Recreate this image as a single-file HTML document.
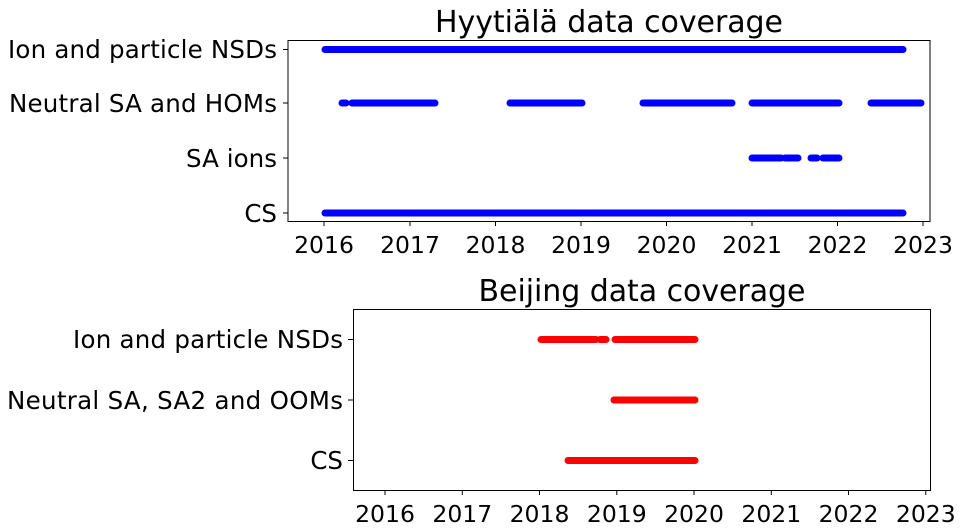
<!DOCTYPE html>
<html><head><meta charset="utf-8"><style>
html,body{margin:0;padding:0;background:#fff;}
svg{display:block;}
text{font-family:"DejaVu Sans","Liberation Sans",sans-serif;fill:#000;}
</style></head><body>
<svg width="963" height="528" viewBox="0 0 963 528" xmlns="http://www.w3.org/2000/svg">
<!-- Top chart -->
<text x="609" y="32" font-size="30" text-anchor="middle" textLength="348">Hyytiälä data coverage</text>
<g stroke="#0000ff" stroke-width="7" stroke-linecap="round" fill="none">
<line x1="325" y1="49.5" x2="903" y2="49.5"/>
<line x1="342" y1="103" x2="346" y2="103"/>
<line x1="352" y1="103" x2="435" y2="103"/>
<line x1="510" y1="103" x2="582" y2="103"/>
<line x1="643" y1="103" x2="732" y2="103"/>
<line x1="752" y1="103" x2="839" y2="103"/>
<line x1="871" y1="103" x2="921" y2="103"/>
<line x1="752" y1="158" x2="781" y2="158"/>
<line x1="785" y1="158" x2="798" y2="158"/>
<line x1="811" y1="158" x2="817" y2="158"/>
<line x1="823" y1="158" x2="839" y2="158"/>
<line x1="325" y1="213" x2="903" y2="213"/>
</g>
<rect x="288" y="40.5" width="642" height="181" fill="none" stroke="#000" stroke-width="1"/>
<g stroke="#000" stroke-width="1">
<line x1="283" y1="49.5" x2="288" y2="49.5"/><line x1="283" y1="103" x2="288" y2="103"/>
<line x1="283" y1="158" x2="288" y2="158"/><line x1="283" y1="213" x2="288" y2="213"/>
<line x1="324" y1="221" x2="324" y2="226"/><line x1="410" y1="221" x2="410" y2="226"/>
<line x1="495.5" y1="221" x2="495.5" y2="226"/><line x1="581" y1="221" x2="581" y2="226"/>
<line x1="666.5" y1="221" x2="666.5" y2="226"/><line x1="752" y1="221" x2="752" y2="226"/>
<line x1="837.5" y1="221" x2="837.5" y2="226"/><line x1="923" y1="221" x2="923" y2="226"/>
</g>
<g font-size="24.5" text-anchor="end">
<text x="277" y="58" textLength="269">Ion and particle NSDs</text>
<text x="277" y="112" textLength="268">Neutral SA and HOMs</text>
<text x="277" y="167" textLength="91">SA ions</text>
<text x="277" y="222">CS</text>
</g>
<g font-size="23.5" text-anchor="middle">
<text x="324" y="253">2016</text><text x="410" y="253">2017</text><text x="495.5" y="253">2018</text>
<text x="581" y="253">2019</text><text x="666.5" y="253">2020</text><text x="752" y="253">2021</text>
<text x="837.5" y="253">2022</text><text x="923" y="253">2023</text>
</g>
<!-- Bottom chart -->
<text x="642" y="301" font-size="30" text-anchor="middle" textLength="327">Beijing data coverage</text>
<g stroke="#ff0000" stroke-width="7" stroke-linecap="round" fill="none">
<line x1="541" y1="339.5" x2="596" y2="339.5"/>
<line x1="600" y1="339.5" x2="606" y2="339.5"/>
<line x1="615" y1="339.5" x2="695" y2="339.5"/>
<line x1="614" y1="400" x2="695" y2="400"/>
<line x1="568" y1="460.5" x2="695" y2="460.5"/>
</g>
<rect x="353.5" y="309.5" width="577" height="181" fill="none" stroke="#000" stroke-width="1"/>
<g stroke="#000" stroke-width="1">
<line x1="348" y1="339.5" x2="353" y2="339.5"/><line x1="348" y1="400" x2="353" y2="400"/>
<line x1="348" y1="460.5" x2="353" y2="460.5"/>
<line x1="385" y1="490" x2="385" y2="495"/><line x1="462.3" y1="490" x2="462.3" y2="495"/>
<line x1="539.5" y1="490" x2="539.5" y2="495"/><line x1="616.8" y1="490" x2="616.8" y2="495"/>
<line x1="694" y1="490" x2="694" y2="495"/><line x1="771.3" y1="490" x2="771.3" y2="495"/>
<line x1="848.5" y1="490" x2="848.5" y2="495"/><line x1="925.8" y1="490" x2="925.8" y2="495"/>
</g>
<g font-size="24.5" text-anchor="end">
<text x="343" y="348" textLength="270">Ion and particle NSDs</text>
<text x="343" y="409" textLength="336">Neutral SA, SA2 and OOMs</text>
<text x="343" y="469">CS</text>
</g>
<g font-size="23.5" text-anchor="middle">
<text x="385" y="522">2016</text><text x="462.3" y="522">2017</text><text x="539.5" y="522">2018</text>
<text x="616.8" y="522">2019</text><text x="694" y="522">2020</text><text x="771.3" y="522">2021</text>
<text x="848.5" y="522">2022</text><text x="925.8" y="522">2023</text>
</g>
</svg>
</body></html>
